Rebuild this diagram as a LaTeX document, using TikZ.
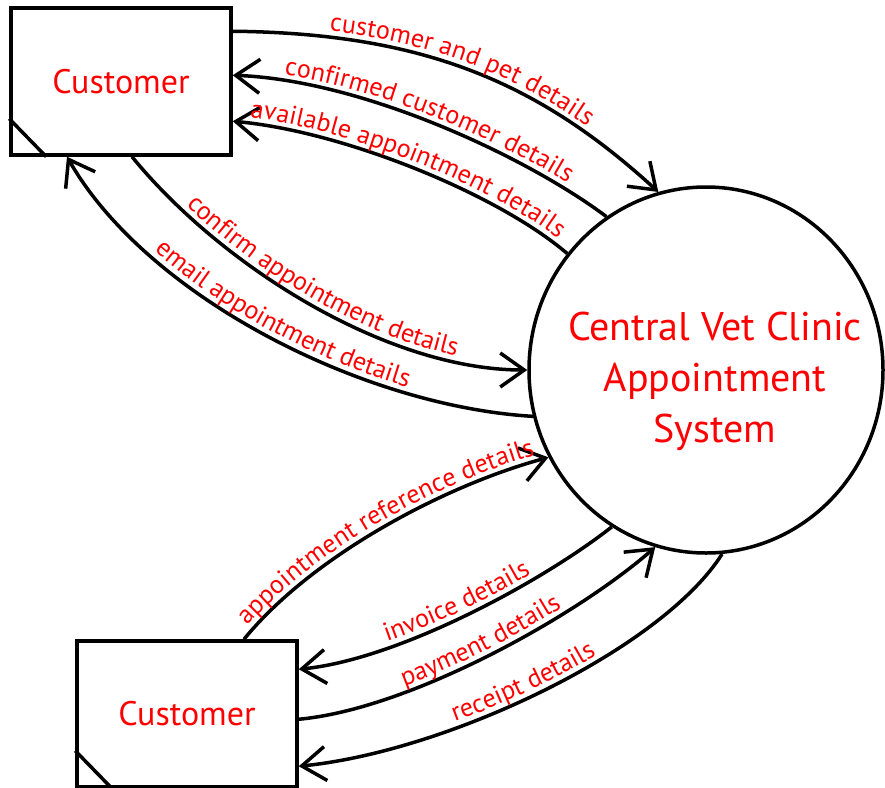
\documentclass[tikz,border=0pt]{standalone}
\usepackage{fontspec}
\setmainfont{PT Sans}
\usetikzlibrary{arrows.meta,decorations.text,shapes.geometric}
\newcommand\labfmt{\fontsize{26}{30}\selectfont\color{red}}
\newcommand\zw[1]{\makebox[0pt]{#1}}
\begin{document}
\begin{tikzpicture}[x=1pt,y=1pt,
  ent/.style={draw,line width=3.5pt,minimum width=220pt,minimum height=147pt,inner sep=0pt,font=\fontsize{34}{38}\selectfont,text=red},
  proc/.style={draw,ellipse,line width=3.5pt,minimum width=354pt,minimum height=366pt,inner sep=0pt,font=\fontsize{40}{51}\selectfont,text=red,align=center},
  flow/.style={line width=3.5pt,-{Straight Barb[length=24pt,width=34pt]}},
  lab/.style={postaction={decorate,decoration={text along path,text align=center,raise=6pt,text={|\labfmt|#1}}}},
  labr/.style={postaction={decorate,decoration={text along path,reverse path,text align=center,raise=6pt,text={|\labfmt|#1}}}}
]
\useasboundingbox (0,0) rectangle (885,-787);
\node[ent] (c1) at (121,-81.5) {Customer};
\node[ent,minimum height=146pt] (c2) at (187,-714) {Customer};
\node[proc] (sys) at (706,-370) {\rule{0pt}{52pt}\zw{\hspace{18pt}Central Vet Clinic}\\\zw{\hspace{18pt}Appointment}\\\zw{\hspace{18pt}System}};
\draw[line width=3.5pt] ([yshift=38pt]c1.south west) -- ([xshift=37pt]c1.south west);
\draw[line width=3.5pt] ([yshift=38pt]c2.south west) -- ([xshift=37pt]c2.south west);

\draw[flow,lab={customer and pet details}] ([yshift=-25pt]c1.north east) .. controls +(190,-2) and +(-120,110) .. (sys.105.7);
\draw[flow,labr={confirmed customer details}] (sys.123.4) .. controls +(-80,60) and +(130,-5) .. ([yshift=-69pt]c1.north east);
\draw[flow,labr={available appointment details}] (sys.140.4) .. controls +(-70,60) and +(110,-10) .. ([yshift=-115pt]c1.north east);
\draw[flow,lab={confirm appointment details}] ([xshift=11pt]c1.south) .. controls +(90,-110) and +(-140,0) .. (sys.180.6);
\draw[flow,labr={email appointment details}] (sys.195.2) .. controls +(-170,10) and +(80,-140) .. ([xshift=-54pt]c1.south);
\draw[flow,lab={appointment reference details}] ([xshift=57pt]c2.north) .. controls +(65,80) and +(-110,-30) .. (sys.209.5);
\draw[flow,labr={invoice details}] (sys.239.2) .. controls +(-70,-55) and +(100,10) .. ([yshift=-30pt]c2.north east);
\draw[flow,lab={payment details}] ([yshift=-80pt]c2.north east) .. controls +(110,10) and +(-80,-70) .. (sys.254.8);
\draw[flow,labr={receipt details}] (sys.275.3) .. controls +(-60,-95) and +(150,15) .. ([yshift=-127pt]c2.north east);
\end{tikzpicture}
\end{document}
